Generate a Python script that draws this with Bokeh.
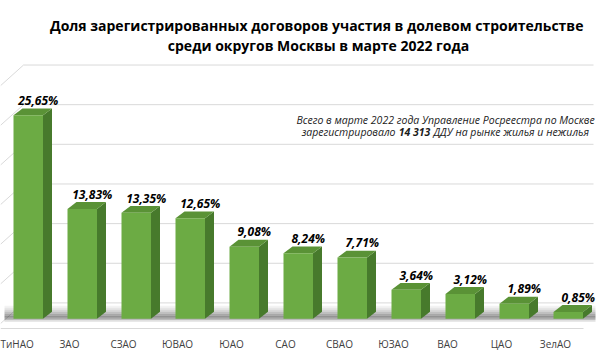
from bokeh.plotting import figure
from bokeh.models import FixedTicker, Range1d
from bokeh.core.properties import value
from bokeh.embed import file_html
from bokeh.resources import INLINE

# ---------------- data ----------------
districts = ["ТиНАО", "ЗАО", "СЗАО", "ЮВАО", "ЮАО", "САО", "СВАО", "ЮЗАО", "ВАО", "ЦАО", "ЗелАО"]
shares = [25.65, 13.83, 13.35, 12.65, 9.08, 8.24, 7.71, 3.64, 3.12, 1.89, 0.85]
grid_values = [0, 5, 10, 15, 20, 25, 30]
title_lines = [
    "Доля зарегистрированных  договоров участия в долевом строительстве",
    "среди округов Москвы в марте 2022 года",
]
note_line1 = "Всего в марте 2022 года Управление Росреестра по Москве"
note_line2_parts = ["зарегистрировало", "14 313", "ДДУ на рынке жилья и нежилья"]

# ---------------- layout helpers (pixel <-> data) ----------------
W, H = 600, 353
BORDER_B = 18
FRAME_H = H - BORDER_B
X0_PX, STEP_PX = 15.0, 54.0
Y0_PX, PX_PER_UNIT = 323.0, 8.05


def dx(px):
    return px / STEP_PX


def dy(px):
    return px / PX_PER_UNIT


def xp(px):
    return (px - X0_PX) / STEP_PX


def yp(py):
    return (Y0_PX - py) / PX_PER_UNIT


FONT = "Open Sans"

p = figure(
    width=W, height=H,
    x_range=Range1d(xp(0), xp(W)),
    y_range=Range1d(yp(FRAME_H), yp(0)),
    output_backend="svg", toolbar_location=None,
    y_axis_location=None,
    min_border_left=0, min_border_right=0, min_border_top=0,
    min_border_bottom=BORDER_B,
)
p.xgrid.visible = False
p.ygrid.visible = False
p.outline_line_color = None
p.background_fill_color = "white"
p.border_fill_color = "white"

# x axis with district names
ax = p.xaxis[0]
ax.ticker = FixedTicker(ticks=list(range(len(districts))))
ax.major_label_overrides = {i: name for i, name in enumerate(districts)}
ax.axis_line_color = None
ax.major_tick_line_color = None
ax.minor_tick_line_color = None
ax.major_tick_out = 0
ax.major_tick_in = 0
ax.major_label_standoff = 6
ax.major_label_text_font = FONT
ax.major_label_text_font_size = "10px"
ax.major_label_text_color = "#404040"

# back wall gridlines + side wall diagonals
GRID_OFF = dy(16)
gy = [g + GRID_OFF for g in grid_values]
p.segment(x0=[xp(23)] * len(gy), y0=gy, x1=[xp(593)] * len(gy), y1=gy,
          line_color="#d9d9d9", line_width=1)
p.segment(x0=[xp(23)] * len(gy), y0=gy, x1=[xp(0)] * len(gy), y1=[v - dy(21) for v in gy],
          line_color="#d9d9d9", line_width=1)

# floor front edge
p.segment(x0=[xp(0)], y0=[yp(333)], x1=[xp(583)], y1=[yp(333)], line_color="#d9d9d9", line_width=1)

# floor shadow (soft band)
bands = [(310, 312, 0.06), (312, 314, 0.12), (314, 316, 0.2), (316, 318, 0.3),
         (318, 320, 0.42), (320, 322, 0.52), (322, 324, 0.4), (324, 326, 0.15)]
for t, b, a in bands:
    p.quad(left=[xp(4)], right=[xp(595)], top=[yp(t)], bottom=[yp(b)],
           fill_color="#303030", fill_alpha=a, line_color=None)

# 3D bars
DX, DY = dx(9), dy(7)
idx = list(range(len(shares)))
left = [i + dx(-2) for i in idx]
right = [i + dx(27.5) for i in idx]

side_xs = [[r, r + DX, r + DX, r] for r in right]
side_ys = [[0, DY, v + DY, v] for v in shares]
p.patches(side_xs, side_ys, fill_color="#477a2c", line_color=None)

top_xs = [[l, r, r + DX, l + DX] for l, r in zip(left, right)]
top_ys = [[v, v, v + DY, v + DY] for v in shares]
p.patches(top_xs, top_ys, fill_color="#5a9236", line_color=None)

p.quad(left=left, right=right, bottom=[0] * len(shares), top=shares,
       fill_color="#6cab44", line_color=None)

# value labels
labels = [f"{v:.2f}".replace(".", ",") + "%" for v in shares]
p.text(x=[i + dx(22.75) for i in idx], y=[v + dy(15) for v in shares], text=labels,
       text_align="center", text_baseline="middle",
       text_font=value(FONT), text_font_style="bold italic", text_font_size="12px",
       text_color="black")

# title
p.text(x=[xp(318)] * 2, y=[yp(25), yp(46)], text=title_lines,
       text_align="center", text_baseline="middle",
       text_font=value(FONT), text_font_style="bold", text_font_size="14px",
       text_color="black")

# note
NOTE_FS = "10.5px"
p.text(x=[xp(445)], y=[yp(121)], text=[note_line1], text_align="center", text_baseline="middle",
       text_font=value(FONT), text_font_style="italic", text_font_size=NOTE_FS, text_color="#1a1a1a")
BOLD_C = 414
p.text(x=[xp(BOLD_C - 19)], y=[yp(133)], text=[note_line2_parts[0]], text_align="right", text_baseline="middle",
       text_font=value(FONT), text_font_style="italic", text_font_size=NOTE_FS, text_color="#1a1a1a")
p.text(x=[xp(BOLD_C)], y=[yp(133)], text=[note_line2_parts[1]], text_align="center", text_baseline="middle",
       text_font=value(FONT), text_font_style="bold italic", text_font_size=NOTE_FS, text_color="#1a1a1a")
p.text(x=[xp(BOLD_C + 19)], y=[yp(133)], text=[note_line2_parts[2]], text_align="left", text_baseline="middle",
       text_font=value(FONT), text_font_style="italic", text_font_size=NOTE_FS, text_color="#1a1a1a")

open("out.html", "w").write(file_html(p, INLINE))
